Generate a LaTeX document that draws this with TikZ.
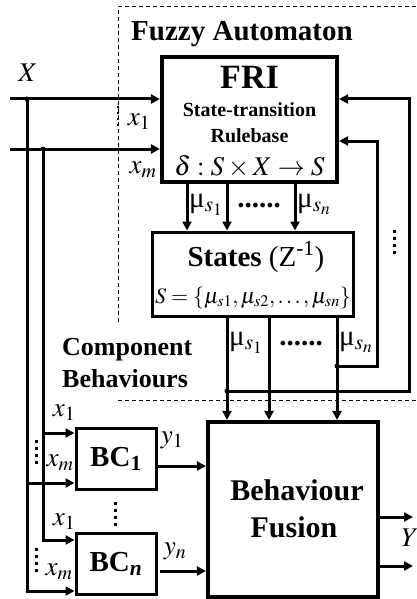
\documentclass[tikz,border=0pt]{standalone}
\usepackage{mathptmx}
\usepackage[no-math]{fontspec}
\setmainfont{Liberation Serif}
\usetikzlibrary{arrows.meta}
\newcommand{\fsz}[1]{\fontsize{#1}{#1}\selectfont}
\begin{document}
\begin{tikzpicture}[x=1pt,y=-1pt,
  ln/.style={line width=3pt},
  arr/.style={ln,-{Triangle[length=9pt,width=9pt]}},
  boxthin/.style={draw,line width=3pt,inner sep=0pt},
  boxthick/.style={draw,line width=4.2pt,inner sep=0pt},
  txt/.style={inner sep=0pt},
  dashln/.style={line width=1pt,dash pattern=on 4pt off 3pt},
  vdotsln/.style={line width=3pt,dash pattern=on 3pt off 4pt},
  jdot/.style={fill=black}
]
\useasboundingbox (0,0) rectangle (416,599);

% dashed frame
\draw[dashln] (118,322) -- (118,7) -- (416,7);
\draw[dashln] (118,400) -- (416,400);

% boxes
\node[boxthick,minimum width=175pt,minimum height=125pt] (fri) at (249.5,119.5) {};
\node[boxthin,minimum width=201pt,minimum height=84pt] (st) at (252.5,274) {};
\node[boxthin,minimum width=80pt,minimum height=61pt,font=\fsz{29}] (bc1) at (116,459) {\textbf{BC\textsubscript{1}}};
\node[boxthin,minimum width=80pt,minimum height=61pt,font=\fsz{29}] (bcn) at (116,564) {\textbf{BC\textsubscript{\textit{n}}}};
\node[boxthick,minimum width=170pt,minimum height=175pt] (bf) at (293,509.5) {};

% texts
\node[txt,anchor=base,font=\fsz{29}] (tfa) at (242,41) {\textbf{Fuzzy Automaton}};
\node[txt,anchor=base,font=\fsz{34}] (tfri) at (249.5,89) {\textbf{FRI}};
\node[txt,anchor=base,font=\fsz{20}] (tstr) at (249.5,117) {\textbf{State-transition}};
\node[txt,anchor=base,font=\fsz{20}] (trb) at (249.5,142) {\textbf{Rulebase}};
\node[txt,anchor=base,font=\fsz{27}] (tdel) at (249.5,175) {$\delta : S\times X\rightarrow S$};
\node[txt,anchor=base,font=\fsz{29}] (tsts) at (256,266) {\textbf{States} (Z\textsuperscript{-1})};
\node[txt,anchor=base,font=\fsz{22}] (tset) at (253,303) {$S=\{\mu_{s1},\mu_{s2},\ldots,\mu_{sn}\}$};
\node[txt,anchor=base west,font=\fsz{26}] (tc1) at (62,355) {\textbf{Component}};
\node[txt,anchor=base west,font=\fsz{26}] (tc2) at (62,387) {\textbf{Behaviours}};
\node[txt,anchor=base,font=\fsz{30}] (tb1) at (297,500) {\textbf{Behaviour}};
\node[txt,anchor=base,font=\fsz{30}] (tb2) at (294,537) {\textbf{Fusion}};

% mu labels
\node[txt,anchor=base,font=\fsz{29}] (mu1) at (206,207) {μ$_{s_1}$};
\node[txt,anchor=base,font=\fsz{29}] (mun) at (314,207) {μ$_{s_n}$};
\node[txt,anchor=base,font=\fsz{29}] (dt1) at (259,207) {\textbf{......}};
\node[txt,anchor=base,font=\fsz{29}] (mu1b) at (246,345) {μ$_{s_1}$};
\node[txt,anchor=base,font=\fsz{29}] (munb) at (356,345) {μ$_{s_n}$};
\node[txt,anchor=base,font=\fsz{29}] (dt2) at (301,345) {\textbf{......}};

% variable labels
\node[txt,font=\fsz{27}] (lX) at (28,73) {$X$};
\node[txt,font=\fsz{27}] (lx1) at (139,122) {$x_1$};
\node[txt,font=\fsz{27}] (lxm) at (143,170) {$x_m$};
\node[txt,font=\fsz{27}] (bx1a) at (64,413) {$x_1$};
\node[txt,font=\fsz{27}] (bxma) at (60,463) {$x_m$};
\node[txt,font=\fsz{27}] (bx1b) at (64,522) {$x_1$};
\node[txt,font=\fsz{27}] (bxmb) at (59,572) {$x_m$};
\node[txt,font=\fsz{27}] (ly1) at (172,440) {$y_1$};
\node[txt,font=\fsz{27}] (lyn) at (175,551) {$y_n$};
\node[txt,font=\fsz{27}] (lY) at (410,538) {$Y$};

% coordinates
\coordinate (in1) at (10,99);
\coordinate (in2) at (10,149);
\coordinate (j1) at (27,99);
\coordinate (j2) at (43,149);
\coordinate (c591) at (27,591);
\coordinate (c540) at (43,540);
\coordinate (b1) at (43,433);
\coordinate (b2) at (27,483);
\coordinate (a1) at (187,0);
\coordinate (a2) at (227,0);
\coordinate (a3) at (295,0);
\coordinate (a4) at (269,0);
\coordinate (a5) at (337,0);
\coordinate (f1) at (337,366);
\coordinate (fb1a) at (377,366);
\coordinate (fb1b) at (377,141);
\coordinate (f2) at (227,391);
\coordinate (fb2a) at (409,391);
\coordinate (fb2b) at (409,99);
\coordinate (o1) at (155,466);
\coordinate (o2) at (160,571);
\coordinate (y1c) at (413,517);
\coordinate (y2c) at (413,566);

% inputs
\draw[arr] (in1) -- (in1 -| fri.west);
\draw[arr] (in2) -- (in2 -| fri.west);
\draw[arr] (j1) -- (c591) -- (c591 -| bcn.west);
\draw[arr] (j2) -- (c540) -- (c540 -| bcn.west);
\draw[arr] (b1) -- (b1 -| bc1.west);
\draw[arr] (b2) -- (b2 -| bc1.west);

% FRI -> States
\draw[arr] (fri.south -| a1) -- (st.north -| a1);
\draw[arr] (fri.south -| a2) -- (st.north -| a2);
\draw[arr] (fri.south -| a3) -- (st.north -| a3);

% States -> BF
\draw[arr] (st.south -| a2) -- (bf.north -| a2);
\draw[arr] (st.south -| a4) -- (bf.north -| a4);
\draw[arr] (st.south -| a5) -- (bf.north -| a5);

% feedback
\draw[arr] (f1) -- (fb1a) -- (fb1b) -- (fb1b -| fri.east);
\draw[arr] (f2) -- (fb2a) -- (fb2b) -- (fb2b -| fri.east);

% BC outputs and Y
\draw[arr] (bc1.east |- o1) -- (bf.west |- o1);
\draw[arr] (o2) -- (bf.west |- o2);
\draw[arr] (bf.east |- y1c) -- (y1c);
\draw[arr] (bf.east |- y2c) -- (y2c);

% junction dots
\fill[jdot] (j1) circle (2.5pt);
\fill[jdot] (j2) circle (2.5pt);
\fill[jdot] (f1) circle (2.5pt);
\fill[jdot] (f2) circle (2.5pt);

% vertical dots
\draw[vdotsln] (394,229.5) -- (394,254);
\draw[vdotsln] (36,440) -- (36,464);
\draw[vdotsln] (36,548) -- (36,572);
\draw[vdotsln] (115,502) -- (115,526);
\draw[line width=2pt,dash pattern=on 2pt off 4pt] (118,106) -- (118,129);
\end{tikzpicture}
\end{document}
